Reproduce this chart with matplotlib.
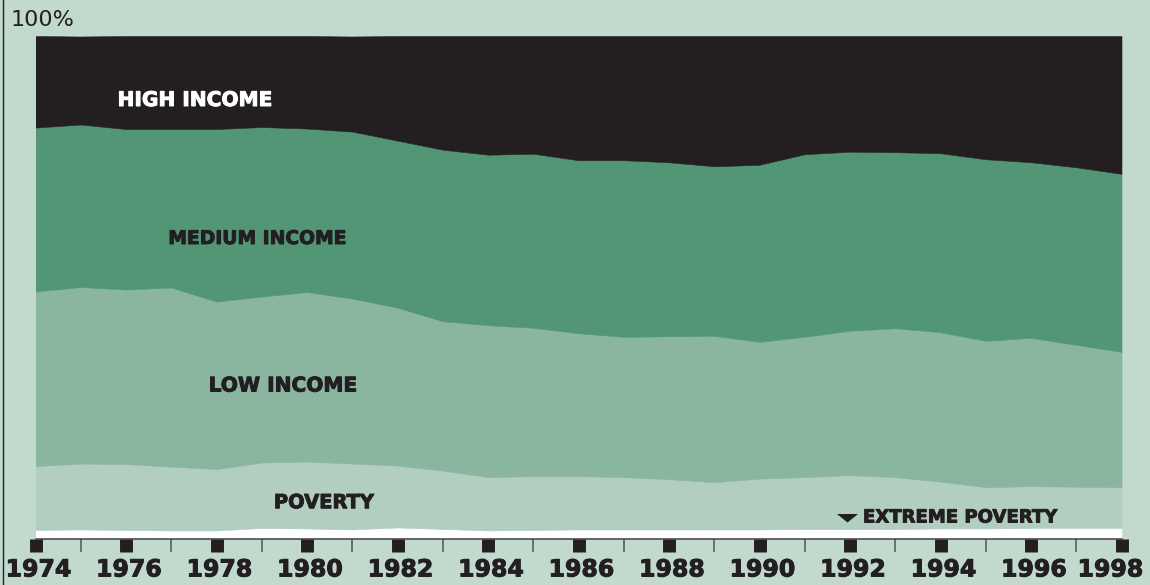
import numpy as np
import matplotlib
matplotlib.use("Agg")
from matplotlib import pyplot as plt
from matplotlib.lines import Line2D
from matplotlib.patches import Polygon
import matplotlib.patheffects as pe
import matplotlib.transforms as mtransforms

# shares of population (%), 1974-1998
years = list(range(1974, 1999))
extreme_poverty = [1.8, 1.9, 1.8, 1.7, 1.7, 2.2, 2.1, 1.9, 2.3, 2.0, 1.7, 1.8, 1.9,
                   1.9, 1.9, 1.9, 1.9, 2.0, 2.0, 2.0, 2.1, 2.1, 2.2, 2.2, 2.2]
poverty = [12.7, 13.1, 13.1, 12.7, 12.2, 13.0, 13.3, 13.1, 12.3, 11.6, 10.6, 10.7, 10.6,
           10.4, 10.0, 9.4, 10.1, 10.3, 10.7, 10.3, 9.3, 8.2, 8.3, 8.2, 8.1]
low_income = [34.7, 35.1, 34.7, 35.6, 33.3, 33.0, 33.7, 32.8, 31.4, 29.7, 30.2, 29.5, 28.4,
              27.9, 28.4, 29.1, 27.2, 27.9, 28.7, 29.6, 29.7, 29.1, 29.5, 28.2, 26.9]
medium_income = [32.6, 32.3, 31.9, 31.5, 34.3, 33.7, 32.5, 33.2, 33.2, 34.1, 33.9, 34.6, 34.4,
                 35.1, 34.6, 33.7, 35.2, 36.3, 35.6, 35.0, 35.6, 36.1, 34.9, 35.3, 35.4]
high_income = [18.2, 17.5, 18.5, 18.5, 18.5, 18.1, 18.4, 18.9, 20.8, 22.6, 23.6, 23.4, 24.7,
               24.7, 25.1, 25.9, 25.6, 23.5, 23.0, 23.1, 23.3, 24.5, 25.1, 26.1, 27.4]

layer_names = ["EXTREME POVERTY", "POVERTY", "LOW INCOME", "MEDIUM INCOME", "HIGH INCOME"]
layer_colors = ["#ffffff", "#b2cec0", "#8ab59f", "#529676", "#231f20"]

bg = "#c2d9cd"
dark = "#231f20"
W, H = 1150, 585


def fx(x):
    return x / W


def fy(y):
    return 1 - y / H


def heavy(color):
    # fake a blacker weight than DejaVu Bold
    return [pe.withStroke(linewidth=0.7, foreground=color)]


fig = plt.figure(figsize=(11.5, 5.85), dpi=100, facecolor=bg)
ax = fig.add_axes([fx(35.5), fy(539), fx(1121.5) - fx(35.5), fy(36) - fy(539)])
ax.set_facecolor(bg)

polys = ax.stackplot(years, extreme_poverty, poverty, low_income, medium_income, high_income,
                     colors=layer_colors, linewidth=0.4)
for p, c in zip(polys, layer_colors):
    p.set_edgecolor(c)

ax.set_xlim(1974, 1998)
ax.set_ylim(0, 100)
ax.set_yticks([])
for s in ["top", "left", "right"]:
    ax.spines[s].set_visible(False)
ax.spines["bottom"].set_color("#3a3a3a")
ax.spines["bottom"].set_linewidth(1.1)

ax.set_xticks(years[::2])
ax.set_xticklabels([str(y) for y in years[::2]], fontweight="bold", color=dark)
ax.set_xticks(years[1::2], minor=True)
ax.tick_params(axis="x", which="major", length=9.3, width=9.3, color=dark,
               pad=4, labelsize=17)
ax.tick_params(axis="x", which="minor", length=9.3, width=1.1, color="#555555")

# labels sit a little right of their ticks; the last one is pulled in to fit
labels = ax.get_xticklabels()
for i, lbl in enumerate(labels):
    dx = -11 if i == len(labels) - 1 else 3
    lbl.set_transform(lbl.get_transform() +
                      mtransforms.ScaledTranslation(dx / 100, 0, fig.dpi_scale_trans))
    lbl.set_path_effects(heavy(dark))

# layer labels
fig.text(fx(195), fy(100.5), "HIGH INCOME", color="white", fontsize=14.5,
         fontweight="bold", ha="center", va="center", path_effects=heavy("white"))
fig.text(fx(257.5), fy(238.5), "MEDIUM INCOME", color=dark, fontsize=13.5,
         fontweight="bold", ha="center", va="center", path_effects=heavy(dark))
fig.text(fx(283), fy(386), "LOW INCOME", color=dark, fontsize=14.5,
         fontweight="bold", ha="center", va="center", path_effects=heavy(dark))
fig.text(fx(324), fy(502.7), "POVERTY", color=dark, fontsize=14,
         fontweight="bold", ha="center", va="center", path_effects=heavy(dark))
fig.text(fx(863), fy(517.5), "EXTREME POVERTY", color=dark, fontsize=13,
         fontweight="bold", ha="left", va="center", path_effects=heavy(dark))
tri = Polygon([[fx(837), fy(514)], [fx(858), fy(514)], [fx(847.5), fy(522.5)]],
              closed=True, facecolor=dark, edgecolor="none", transform=fig.transFigure)
fig.add_artist(tri)

fig.text(fx(11), fy(19.5), "100%", color=dark, fontsize=16, ha="left", va="center")

fig.add_artist(Line2D([fx(3), fx(3)], [0, 1], color=dark, linewidth=1.0,
                      transform=fig.transFigure))

fig.savefig("out.png", dpi=100, facecolor=bg)
